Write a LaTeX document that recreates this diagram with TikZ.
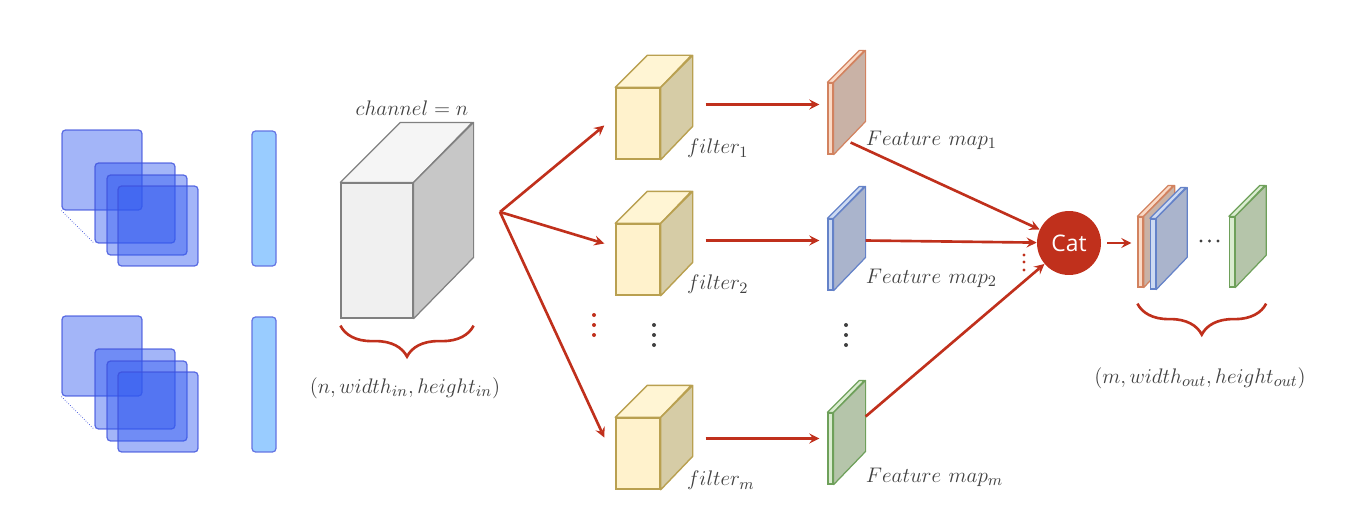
\documentclass[tikz,border=0pt]{standalone}
\usepackage{fontspec}
\newfontfamily\catfont{Open Sans}
\usetikzlibrary{arrows,decorations.pathreplacing}

\definecolor{cnnred}{RGB}{192,48,28}
\definecolor{sqblue}{RGB}{50,90,240}
\definecolor{sqline}{RGB}{60,80,220}
\definecolor{barfill}{RGB}{153,204,255}
\definecolor{txtgray}{RGB}{64,64,64}

% box with a front face node, a top face and a side face
\newcommand{\drawbox}[6]{%
    \node [#6 front, minimum width = #3*0.02cm, minimum height = #4*0.02cm] (#1) at #2 {};
    \filldraw [#6 top] (#1.north west) -- ++(#5,#5) -- ++(#3,0) -- (#1.north east) -- cycle;
    \filldraw [#6 side] (#1.north east) -- ++(#5,#5) -- ++(0,-#4) -- (#1.south east) -- cycle;
}

\begin{document}
\begin{tikzpicture}[
    x = 0.02cm,
    y = 0.02cm,
    sq/.style = {
        rectangle,
        rounded corners = 2pt,
        minimum size = 1.6cm,
        inner sep = 0pt,
        draw = sqline,
        draw opacity = 0.8,
        line width = 0.7pt,
        fill = sqblue,
        fill opacity = 0.45
    },
    bar/.style = {
        rectangle,
        rounded corners = 2pt,
        minimum width = 0.48cm,
        minimum height = 2.7cm,
        inner sep = 0pt,
        draw = sqline!80,
        line width = 0.7pt,
        fill = barfill
    },
    cube front/.style = {rectangle, inner sep = 0pt, draw = gray, fill = black!6, line width = 0.7pt},
    cube top/.style = {draw = gray, fill = black!4, line width = 0.7pt, line join = round},
    cube side/.style = {draw = gray, fill = black!22, line width = 0.7pt, line join = round},
    filt front/.style = {rectangle, inner sep = 0pt, draw = {rgb,255:red,185;green,160;blue,80}, fill = {rgb,255:red,255;green,242;blue,204}, line width = 0.8pt},
    filt top/.style = {draw = {rgb,255:red,185;green,160;blue,80}, fill = {rgb,255:red,255;green,245;blue,212}, line width = 0.8pt, line join = round},
    filt side/.style = {draw = {rgb,255:red,185;green,160;blue,80}, fill = {rgb,255:red,214;green,204;blue,166}, line width = 0.8pt, line join = round},
    fmo front/.style = {rectangle, inner sep = 0pt, draw = {rgb,255:red,210;green,130;blue,95}, fill = {rgb,255:red,250;green,218;blue,198}, line width = 0.7pt},
    fmo top/.style = {draw = {rgb,255:red,210;green,130;blue,95}, fill = {rgb,255:red,250;green,218;blue,198}, line width = 0.7pt, line join = round},
    fmo side/.style = {draw = {rgb,255:red,210;green,130;blue,95}, fill = {rgb,255:red,201;green,178;blue,166}, line width = 0.7pt, line join = round},
    fmb front/.style = {rectangle, inner sep = 0pt, draw = {rgb,255:red,100;green,130;blue,200}, fill = {rgb,255:red,205;green,218;blue,242}, line width = 0.7pt},
    fmb top/.style = {draw = {rgb,255:red,100;green,130;blue,200}, fill = {rgb,255:red,205;green,218;blue,242}, line width = 0.7pt, line join = round},
    fmb side/.style = {draw = {rgb,255:red,100;green,130;blue,200}, fill = {rgb,255:red,170;green,180;blue,204}, line width = 0.7pt, line join = round},
    fmg front/.style = {rectangle, inner sep = 0pt, draw = {rgb,255:red,110;green,160;blue,90}, fill = {rgb,255:red,218;green,236;blue,208}, line width = 0.7pt},
    fmg top/.style = {draw = {rgb,255:red,110;green,160;blue,90}, fill = {rgb,255:red,218;green,236;blue,208}, line width = 0.7pt, line join = round},
    fmg side/.style = {draw = {rgb,255:red,110;green,160;blue,90}, fill = {rgb,255:red,181;green,197;blue,170}, line width = 0.7pt, line join = round},
    arrow/.style = {
        ->,
        >=stealth,
        draw = cnnred,
        line width = 1.5pt
    },
    brace/.style = {
        decorate,
        decoration = {brace, mirror, amplitude = 0.62cm},
        draw = cnnred,
        line width = 1.5pt
    },
    mathlbl/.style = {
        font = \fontsize{13}{15}\selectfont,
        text = txtgray,
        inner sep = 0pt
    },
    cat/.style = {
        circle,
        minimum size = 1.28cm,
        fill = cnnred,
        text = white,
        font = \catfont\fontsize{13}{15}\selectfont
    }
]
    \useasboundingbox (0,0) rectangle (1364,525);

    % Input images (left)
    \node [sq] (a1) at (102,355) {};
    \node [sq] (a2) at (135,322) {};
    \node [sq] (a3) at (147,310) {};
    \node [sq] (a4) at (158,299) {};
    \draw [sqline, densely dotted, thin] (a1.south west) -- (a2.south west);
    \node [bar] (va) at (264,326.5) {};

    \node [sq] (b1) at (102,169) {};
    \node [sq] (b2) at (135,136) {};
    \node [sq] (b3) at (147,124) {};
    \node [sq] (b4) at (158,113) {};
    \draw [sqline, densely dotted, thin] (b1.south west) -- (b2.south west);
    \node [bar] (vb) at (264,140.5) {};

    % Input tensor
    \drawbox{cube}{(377,274.5)}{72}{135}{60}{cube}
    \node [mathlbl] (chan) at (412,417) {$channel = n$};
    \draw [brace] ([shift={(0,-7)}]cube.south west) -- ([shift={(60,-7)}]cube.south east);
    \node [mathlbl] (insz) at (405,137) {$(n, width_{in}, height_{in})$};

    % Filters
    \drawbox{f1}{(638,401.5)}{44}{71}{32}{filt}
    \drawbox{f2}{(638,265.5)}{44}{71}{32}{filt}
    \drawbox{fm}{(638,71.5)}{44}{71}{32}{filt}
    \node [mathlbl, anchor = west] (lf1) at ([shift={(26,11)}]f1.south east) {$filter_1$};
    \node [mathlbl, anchor = west] (lf2) at ([shift={(26,11)}]f2.south east) {$filter_2$};
    \node [mathlbl, anchor = west] (lfm) at ([shift={(26,9)}]fm.south east) {$filter_m$};

    % Feature maps
    \drawbox{m1}{(830.5,406.5)}{5}{71}{32}{fmo}
    \drawbox{m2}{(830.5,270.5)}{5}{71}{32}{fmb}
    \drawbox{mm}{(830.5,76.5)}{5}{71}{32}{fmg}
    \node [mathlbl, anchor = west] (lm1) at ([shift={(32,14)}]m1.south east) {$Feature\ map_1$};
    \node [mathlbl, anchor = west] (lm2) at ([shift={(32,12)}]m2.south east) {$Feature\ map_2$};
    \node [mathlbl, anchor = west] (lmm) at ([shift={(32,7)}]mm.south east) {$Feature\ map_m$};

    % Dots
    \fill [cnnred] (594,210) circle (2) (594,200) circle (2) (594,190) circle (2);
    \fill [black!75] (654,200) circle (2) (654,190) circle (2) (654,180) circle (2);
    \fill [black!75] (846,200) circle (2) (846,190) circle (2) (846,180) circle (2);
    \fill [cnnred] (1024,270) circle (1.6) (1024,263) circle (1.6) (1024,255) circle (1.6);

    % Concatenation
    \node [cat] (cat) at (1069,282) {Cat};

    % Output stack
    \drawbox{o1}{(1140.5,273)}{5}{70}{31}{fmo}
    \drawbox{o2}{(1153,271)}{5}{70}{31}{fmb}
    \drawbox{o3}{(1232,273)}{5}{70}{31}{fmg}
    \fill [black!75] (1201,284) circle (1.7) (1209.5,284) circle (1.7) (1218,284) circle (1.7);
    \draw [brace] ([shift={(0,-16)}]o1.south west) -- ([shift={(31,-16)}]o3.south east);
    \node [mathlbl] (outsz) at (1200,147) {$(m, width_{out}, height_{out})$};

    % Fan out to filters
    \coordinate (fan) at (500,313);
    \draw [arrow] (fan) -- ([shift={(-11,-2)}]f1.west);
    \draw [arrow] (fan) -- ([shift={(-11,16)}]f2.west);
    \draw [arrow] (fan) -- ([shift={(-11,16)}]fm.west);

    % Filter to feature map
    \draw [arrow] ([shift={(45,19)}]f1.east) -- ([shift={(-8,14)}]m1.west);
    \draw [arrow] ([shift={(45,19)}]f2.east) -- ([shift={(-8,14)}]m2.west);
    \draw [arrow] ([shift={(45,15)}]fm.east) -- ([shift={(-8,10)}]mm.west);

    % Feature maps to Cat
    \draw [arrow] ([shift={(17,-24)}]m1.east) -- (cat);
    \draw [arrow] ([shift={(32,14)}]m2.east) -- (cat);
    \draw [arrow] ([shift={(32,32)}]mm.east) -- (cat);
    \draw [arrow] ([shift={(6,0)}]cat.east) -- ([shift={(-6,9)}]o1.west);

\end{tikzpicture}
\end{document}
